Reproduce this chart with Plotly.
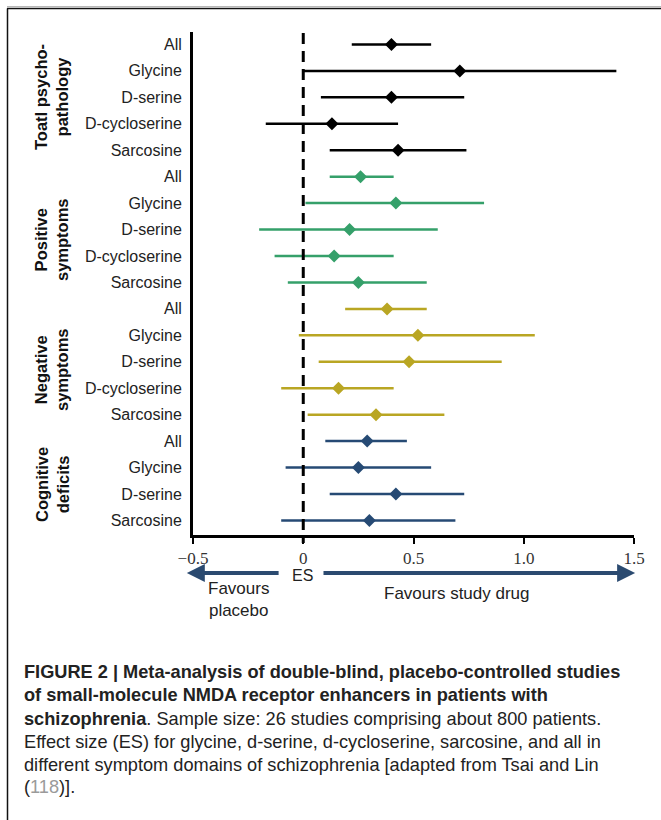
import plotly.graph_objects as go

# ---------------- data ----------------
group_labels = ["Toatl psycho-<br>pathology", "Positive<br>symptoms",
                "Negative<br>symptoms", "Cognitive<br>deficits"]
group_drugs = [
    ["All", "Glycine", "D-serine", "D-cycloserine", "Sarcosine"],
    ["All", "Glycine", "D-serine", "D-cycloserine", "Sarcosine"],
    ["All", "Glycine", "D-serine", "D-cycloserine", "Sarcosine"],
    ["All", "Glycine", "D-serine", "Sarcosine"],
]
total_es = [0.40, 0.71, 0.40, 0.13, 0.43]
total_lo = [0.22, 0.00, 0.08, -0.17, 0.12]
total_hi = [0.58, 1.42, 0.73, 0.43, 0.74]
pos_es = [0.26, 0.42, 0.21, 0.14, 0.25]
pos_lo = [0.12, 0.01, -0.20, -0.13, -0.07]
pos_hi = [0.41, 0.82, 0.61, 0.41, 0.56]
neg_es = [0.38, 0.52, 0.48, 0.16, 0.33]
neg_lo = [0.19, -0.02, 0.07, -0.10, 0.02]
neg_hi = [0.56, 1.05, 0.90, 0.41, 0.64]
cog_es = [0.29, 0.25, 0.42, 0.30]
cog_lo = [0.10, -0.08, 0.12, -0.10]
cog_hi = [0.47, 0.58, 0.73, 0.69]

group_es = [total_es, pos_es, neg_es, cog_es]
group_lo = [total_lo, pos_lo, neg_lo, cog_lo]
group_hi = [total_hi, pos_hi, neg_hi, cog_hi]
group_colors = ["#000000", "#35a06a", "#b9a623", "#264a74"]

x_tickvals = [-0.5, 0, 0.5, 1.0, 1.5]
x_ticktext = ["\u22120.5", "0", "0.5", "1.0", "1.5"]

# ---------------- layout geometry (pixels) ----------------
W, H = 661, 820
L, R, T, B = 193, 634, 32, 535


def px(xp):
    return (xp - L) / (R - L)


def py(yp):
    return (B - yp) / (B - T)


fig = go.Figure()

all_labels = []
row = 0
group_centers_px = [97, 240, 370, 485]
for g, drugs in enumerate(group_drugs):
    ys = list(range(row, row + len(drugs)))
    es = group_es[g]
    lo = group_lo[g]
    hi = group_hi[g]
    fig.add_trace(go.Scatter(
        x=es, y=ys, mode="markers",
        marker=dict(symbol="diamond", size=10, color=group_colors[g]),
        error_x=dict(type="data", symmetric=False,
                     array=[h - e for h, e in zip(hi, es)],
                     arrayminus=[e - l for e, l in zip(es, lo)],
                     color=group_colors[g], thickness=2.5, width=0),
        showlegend=False, cliponaxis=False,
    ))
    all_labels += drugs
    row += len(drugs)

n_rows = len(all_labels)

font_sans = "Liberation Sans, Arial, sans-serif"
font_serif = "Liberation Serif, Times New Roman, serif"
font_cap = "Liberation Sans, Arial, sans-serif"

annotations = []
for g, lab in enumerate(group_labels):
    annotations.append(dict(
        x=px(52), y=py(group_centers_px[g]), xref="paper", yref="paper",
        text="<b>" + lab + "</b>", showarrow=False, textangle=-90,
        font=dict(family=font_sans, size=16.5, color="#111"),
        xanchor="center", yanchor="middle", align="center"))

# arrows below axis
arrow_color = "#2b4a70"
annotations.append(dict(x=-0.528, y=py(573), xref="x", yref="paper",
                        ax=-0.105, ay=0, axref="x", ayref="pixel",
                        text="", showarrow=True, arrowhead=2, arrowsize=0.9,
                        arrowwidth=4, arrowcolor=arrow_color, standoff=0))
annotations.append(dict(x=1.505, y=py(573), xref="x", yref="paper",
                        ax=0.085, ay=0, axref="x", ayref="pixel",
                        text="", showarrow=True, arrowhead=2, arrowsize=0.9,
                        arrowwidth=4, arrowcolor=arrow_color, standoff=0))
annotations.append(dict(x=px(302), y=py(575), xref="paper", yref="paper",
                        text="ES", showarrow=False, xanchor="center", yanchor="middle",
                        font=dict(family=font_sans, size=16, color="#222")))
annotations.append(dict(x=px(238), y=py(599), xref="paper", yref="paper",
                        text="Favours<br>placebo", showarrow=False, align="center",
                        xanchor="center", yanchor="middle",
                        font=dict(family=font_sans, size=17, color="#222")))
annotations.append(dict(x=px(457), y=py(593), xref="paper", yref="paper",
                        text="Favours study drug", showarrow=False,
                        xanchor="center", yanchor="middle",
                        font=dict(family=font_sans, size=17, color="#222")))

caption_lines = [
    "<b>FIGURE 2 | Meta-analysis of double-blind, placebo-controlled studies</b>",
    "<b>of small-molecule NMDA receptor enhancers in patients with</b>",
    "<b>schizophrenia</b>. Sample size: 26 studies comprising about 800 patients.",
    "Effect size (ES) for glycine, d-serine, d-cycloserine, sarcosine, and all in",
    "different symptom domains of schizophrenia [adapted from Tsai and Lin",
    "(<span style='color:#9a9a9a'>118</span>)].",
]
caption_y = [672, 695, 719, 742, 765, 787]
for t, yy in zip(caption_lines, caption_y):
    annotations.append(dict(x=px(22), y=py(yy), xref="paper", yref="paper",
                            text=t, showarrow=False, xanchor="left", yanchor="middle",
                            align="left",
                            font=dict(family=font_cap, size=18.2, color="#222")))

shapes = [
    # dashed zero line
    dict(type="line", xref="x", yref="paper", x0=0, x1=0, y0=py(33), y1=py(543),
         line=dict(color="black", width=3, dash="11px,7px")),
    # frame
    dict(type="line", xref="paper", yref="paper", x0=px(7), x1=px(661), y0=py(6.5), y1=py(6.5),
         line=dict(color="#b8b8b8", width=1)),
    dict(type="line", xref="paper", yref="paper", x0=px(7), x1=px(661), y0=py(8.5), y1=py(8.5),
         line=dict(color="#111", width=1.5)),
    dict(type="line", xref="paper", yref="paper", x0=px(7.5), x1=px(7.5), y0=py(8.5), y1=py(820),
         line=dict(color="#111", width=1.5)),
]

fig.update_layout(
    width=W, height=H,
    margin=dict(l=L, r=W - R, t=T, b=H - B, pad=0),
    paper_bgcolor="white", plot_bgcolor="white",
    xaxis=dict(range=[-0.5, 1.5], tickvals=x_tickvals, ticktext=x_ticktext,
               showgrid=False, zeroline=False, showline=True, linecolor="black",
               linewidth=3, ticks="outside", ticklen=6, tickwidth=2, tickcolor="black",
               tickfont=dict(family=font_serif, size=17, color="#333")),
    yaxis=dict(range=[n_rows - 0.45, -0.47], tickvals=list(range(n_rows)),
               ticktext=all_labels, showgrid=False, zeroline=False, showline=True,
               linecolor="black", linewidth=3, ticks="", ticklabelstandoff=5,
               tickfont=dict(family=font_sans, size=16, color="#222")),
    annotations=annotations, shapes=shapes,
)

fig.write_html("out.html", config={"displayModeBar": False},
               post_script="document.body.style.margin='0';document.body.style.overflow='hidden';")
